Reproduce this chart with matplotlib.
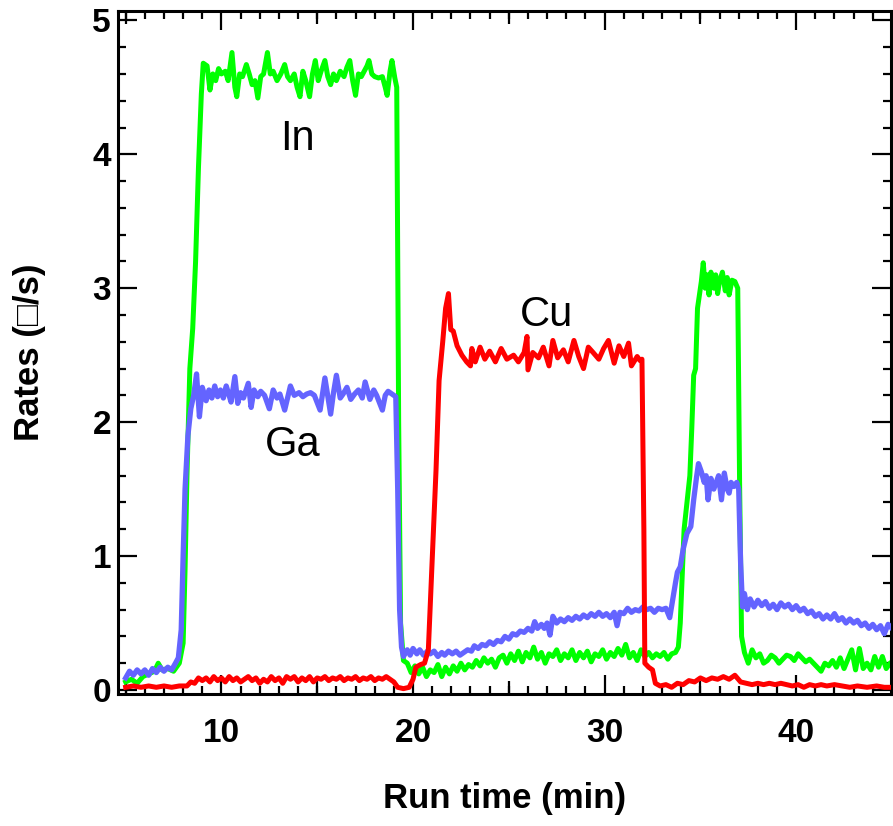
import numpy as np
import matplotlib
matplotlib.use("Agg")
import matplotlib.pyplot as plt
from matplotlib.ticker import MultipleLocator

plt.rcParams['font.family'] = ['Liberation Sans', 'DejaVu Sans']

# ---- In rate (green) ----
t_in = [5.0, 5.3, 5.6, 5.9, 6.2, 6.5, 6.7, 6.9, 7.2, 7.5, 7.8, 8.0, 8.1, 8.2, 8.35, 8.5, 8.65, 8.8, 8.95,
        9.05, 9.25, 9.4, 9.55, 9.7, 9.85, 10.0, 10.2, 10.35, 10.55, 10.7, 10.8, 10.95, 11.1, 11.3, 11.45,
        11.6, 11.75, 11.9, 12.05, 12.2, 12.4, 12.55, 12.7, 12.9, 13.1, 13.3, 13.45, 13.6, 13.8, 13.95,
        14.1, 14.25, 14.4, 14.6, 14.75, 14.9, 15.05, 15.2, 15.4, 15.55, 15.7, 15.85, 16.0, 16.2, 16.4,
        16.55, 16.7, 16.85, 17.0, 17.15, 17.3, 17.45, 17.6, 17.7, 17.85, 18.0, 18.2, 18.4, 18.55, 18.65,
        18.8, 18.9, 19.05, 19.15, 19.25, 19.35, 19.5, 19.7, 19.9, 20.1, 20.3, 20.5, 20.7, 20.9, 21.1,
        21.3, 21.5, 21.7, 21.9, 22.1, 22.3, 22.5, 22.7, 22.9, 23.1, 23.3, 23.5, 23.7, 23.9, 24.1, 24.3,
        24.5, 24.7, 24.9, 25.1, 25.3, 25.5, 25.7, 25.9, 26.1, 26.3, 26.5, 26.7, 26.9, 27.1, 27.3, 27.5,
        27.7, 27.9, 28.1, 28.3, 28.5, 28.7, 28.9, 29.1, 29.3, 29.5, 29.7, 29.9, 30.1, 30.3, 30.5, 30.7,
        30.9, 31.1, 31.3, 31.5, 31.7, 31.9, 32.1, 32.3, 32.5, 32.7, 32.9, 33.1, 33.3, 33.5, 33.7, 33.85,
        33.95, 34.05, 34.15, 34.3, 34.45, 34.55, 34.65, 34.75, 34.85, 34.95, 35.05, 35.15, 35.25, 35.35,
        35.45, 35.55, 35.7, 35.8, 35.9, 36.0, 36.15, 36.3, 36.4, 36.5, 36.65, 36.8, 36.95, 37.05, 37.15,
        37.3, 37.5, 37.7, 37.9, 38.1, 38.3, 38.5, 38.7, 38.9, 39.1, 39.3, 39.5, 39.7, 39.9, 40.1, 40.3,
        40.5, 40.7, 40.9, 41.1, 41.3, 41.5, 41.7, 41.9, 42.1, 42.3, 42.5, 42.7, 42.9, 43.1, 43.3, 43.5,
        43.7, 43.9, 44.1, 44.3, 44.5, 44.7, 44.9, 45.0]
r_in = [0.06, 0.08, 0.05, 0.10, 0.12, 0.14, 0.20, 0.15, 0.16, 0.14, 0.20, 0.35, 0.90, 1.60, 2.40, 2.70, 3.20, 3.90, 4.45,
        4.68, 4.66, 4.48, 4.60, 4.55, 4.64, 4.60, 4.62, 4.55, 4.76, 4.50, 4.43, 4.60, 4.58, 4.67, 4.60,
        4.52, 4.55, 4.42, 4.58, 4.60, 4.76, 4.60, 4.62, 4.55, 4.60, 4.67, 4.58, 4.55, 4.60, 4.50,
        4.43, 4.62, 4.55, 4.43, 4.60, 4.70, 4.55, 4.62, 4.70, 4.58, 4.52, 4.60, 4.55, 4.62, 4.58,
        4.65, 4.70, 4.55, 4.44, 4.60, 4.58, 4.62, 4.66, 4.70, 4.60, 4.58, 4.57, 4.58, 4.50, 4.44,
        4.62, 4.70, 4.57, 4.50, 2.00, 0.50, 0.22, 0.20, 0.13, 0.18, 0.12, 0.17, 0.10, 0.15, 0.13,
        0.19, 0.10, 0.17, 0.12, 0.18, 0.14, 0.20, 0.15, 0.19, 0.17, 0.22, 0.18, 0.24, 0.20, 0.23, 0.17,
        0.24, 0.26, 0.20, 0.27, 0.22, 0.29, 0.21, 0.28, 0.24, 0.32, 0.23, 0.28, 0.20, 0.27, 0.25, 0.30,
        0.22, 0.27, 0.24, 0.30, 0.22, 0.28, 0.24, 0.29, 0.21, 0.27, 0.25, 0.30, 0.23, 0.28, 0.25, 0.31,
        0.26, 0.34, 0.24, 0.28, 0.22, 0.30, 0.25, 0.28, 0.24, 0.27, 0.25, 0.28, 0.23, 0.27, 0.28, 0.32,
        0.50, 0.85, 1.20, 1.40, 1.60, 1.95, 2.35, 2.40, 2.85, 2.95, 3.05, 3.19, 3.00, 3.10,
        2.95, 3.12, 3.00, 3.10, 2.96, 3.05, 3.12, 2.98, 3.08, 2.95, 3.06, 3.05, 3.00, 1.50, 0.40,
        0.28, 0.20, 0.30, 0.24, 0.27, 0.20, 0.22, 0.26, 0.24, 0.20, 0.23, 0.26, 0.25, 0.22, 0.27, 0.24,
        0.21, 0.23, 0.20, 0.17, 0.14, 0.20, 0.18, 0.22, 0.17, 0.24, 0.16, 0.23, 0.30, 0.15, 0.31, 0.16,
        0.20, 0.15, 0.25, 0.17, 0.25, 0.16, 0.20, 0.21]

# ---- Ga rate (blue) ----
t_ga = [5.0, 5.2, 5.4, 5.6, 5.8, 6.0, 6.2, 6.4, 6.6, 6.8, 7.0, 7.2, 7.4, 7.6, 7.75, 7.9, 8.0, 8.1, 8.25,
        8.4, 8.55, 8.7, 8.85, 9.0, 9.2, 9.35, 9.5, 9.65, 9.8, 9.95, 10.1, 10.25, 10.4, 10.5, 10.7, 10.85,
        11.0, 11.15, 11.4, 11.55, 11.7, 11.9, 12.05, 12.25, 12.5, 12.7, 12.9, 13.05, 13.3, 13.6, 13.8,
        14.05, 14.25, 14.45, 14.65, 14.85, 15.15, 15.4, 15.7, 15.85, 16.0, 16.2, 16.35, 16.55, 16.75,
        16.95, 17.15, 17.35, 17.5, 17.75, 17.95, 18.1, 18.4, 18.55, 18.7, 18.9, 19.1, 19.2, 19.3, 19.4,
        19.5, 19.7, 19.85, 20.0, 20.2, 20.35, 20.55, 20.75, 20.9, 21.1, 21.3, 21.5, 21.65, 21.85, 22.05,
        22.25, 22.45, 22.65, 22.85, 23.05, 23.2, 23.4, 23.6, 23.8, 24.0, 24.2, 24.4, 24.6, 24.8, 25.0,
        25.2, 25.4, 25.6, 25.8, 26.0, 26.2, 26.35, 26.5, 26.7, 26.85, 27.0, 27.15, 27.3, 27.5, 27.7,
        27.9, 28.1, 28.3, 28.5, 28.7, 28.9, 29.1, 29.3, 29.5, 29.7, 29.9, 30.1, 30.3, 30.5, 30.65, 30.8,
        31.0, 31.2, 31.4, 31.6, 31.8, 32.0, 32.2, 32.4, 32.6, 32.8, 33.0, 33.2, 33.4, 33.55, 33.7, 33.8,
        33.95, 34.1, 34.3, 34.5, 34.65, 34.8, 34.9, 35.05, 35.2, 35.3, 35.4, 35.55, 35.7, 35.85, 35.95,
        36.1, 36.25, 36.4, 36.5, 36.6, 36.75, 36.9, 37.0, 37.1, 37.2, 37.3, 37.45, 37.6, 37.8, 38.0,
        38.2, 38.4, 38.6, 38.8, 39.0, 39.2, 39.4, 39.6, 39.8, 40.0, 40.2, 40.4, 40.6, 40.8, 41.0, 41.2,
        41.4, 41.6, 41.8, 42.0, 42.2, 42.4, 42.6, 42.8, 43.0, 43.2, 43.4, 43.6, 43.8, 44.0, 44.2, 44.4,
        44.6, 44.8, 45.0]
r_ga = [0.09, 0.14, 0.11, 0.15, 0.12, 0.15, 0.11, 0.16, 0.13, 0.17, 0.14, 0.17, 0.15, 0.20, 0.24, 0.45, 1.00, 1.50, 1.90,
        2.10, 2.20, 2.36, 2.04, 2.26, 2.16, 2.24, 2.18, 2.27, 2.19, 2.24, 2.18, 2.27, 2.20, 2.15, 2.34, 2.14,
        2.22, 2.18, 2.29, 2.11, 2.24, 2.19, 2.23, 2.20, 2.10, 2.24, 2.18, 2.21, 2.09, 2.27, 2.20,
        2.22, 2.19, 2.21, 2.22, 2.20, 2.09, 2.33, 2.06, 2.22, 2.35, 2.18, 2.21, 2.26, 2.17,
        2.21, 2.24, 2.18, 2.30, 2.17, 2.24, 2.20, 2.09, 2.20, 2.23, 2.21, 2.19, 1.50, 0.60, 0.32,
        0.25, 0.30, 0.26, 0.31, 0.27, 0.30, 0.26, 0.29, 0.27, 0.29, 0.25, 0.28, 0.26, 0.29, 0.27,
        0.29, 0.26, 0.28, 0.30, 0.29, 0.33, 0.31, 0.34, 0.33, 0.36, 0.34, 0.37, 0.36, 0.40, 0.38,
        0.42, 0.41, 0.44, 0.43, 0.46, 0.44, 0.51, 0.46, 0.49, 0.46, 0.50, 0.41, 0.55, 0.50, 0.53,
        0.51, 0.54, 0.52, 0.55, 0.53, 0.56, 0.54, 0.57, 0.55, 0.58, 0.55, 0.57, 0.54, 0.58, 0.48, 0.58,
        0.57, 0.61, 0.58, 0.60, 0.59, 0.62, 0.60, 0.61, 0.58, 0.61, 0.60, 0.61, 0.54, 0.67, 0.80, 0.88,
        0.92, 1.05, 1.17, 1.22, 1.42, 1.59, 1.69, 1.63, 1.55, 1.60, 1.42, 1.58, 1.50, 1.56, 1.60,
        1.42, 1.62, 1.50, 1.47, 1.55, 1.52, 1.55, 1.50, 0.95, 0.62, 0.72, 0.60, 0.68, 0.62, 0.67,
        0.63, 0.66, 0.61, 0.64, 0.60, 0.65, 0.62, 0.64, 0.60, 0.63, 0.59, 0.61, 0.57, 0.59, 0.55, 0.57,
        0.53, 0.56, 0.53, 0.57, 0.52, 0.54, 0.50, 0.53, 0.50, 0.52, 0.48, 0.50, 0.46, 0.49, 0.45, 0.48,
        0.42, 0.49, 0.46]

# ---- Cu rate (red) ----
t_cu = [5.0, 5.4, 5.8, 6.2, 6.6, 7.0, 7.4, 7.8, 8.2, 8.4, 8.6, 8.8, 9.0, 9.2, 9.4, 9.6, 9.8, 10.0, 10.2,
        10.4, 10.6, 10.8, 11.0, 11.2, 11.4, 11.6, 11.8, 12.0, 12.2, 12.4, 12.6, 12.8, 13.0, 13.2, 13.4,
        13.6, 13.8, 14.0, 14.2, 14.4, 14.6, 14.8, 15.0, 15.2, 15.4, 15.6, 15.8, 16.0, 16.2, 16.4, 16.6,
        16.8, 17.0, 17.2, 17.4, 17.6, 17.8, 18.0, 18.2, 18.4, 18.6, 18.8, 19.0, 19.2, 19.5, 19.8, 20.0,
        20.15, 20.4, 20.6, 20.8, 21.0, 21.2, 21.36, 21.55, 21.7, 21.85, 21.97, 22.1, 22.3, 22.55, 22.8,
        23.0, 23.07, 23.25, 23.5, 23.75, 24.0, 24.3, 24.6, 24.9, 25.25, 25.5, 25.8, 25.95, 26.0, 26.25,
        26.55, 26.8, 27.1, 27.3, 27.55, 27.85, 28.1, 28.4, 28.65, 28.9, 29.15, 29.4, 29.7, 29.95, 30.2,
        30.5, 30.75, 31.0, 31.25, 31.4, 31.7, 31.85, 31.95, 32.05, 32.1, 32.3, 32.5, 32.65, 32.9, 33.2,
        33.5, 33.8, 34.1, 34.4, 34.7, 35.0, 35.3, 35.6, 35.9, 36.2, 36.5, 36.8, 37.1, 37.4, 37.7, 38.0,
        38.3, 38.6, 38.9, 39.2, 39.5, 39.8, 40.1, 40.4, 40.7, 41.0, 41.3, 41.6, 42.0, 42.4, 42.8, 43.2,
        43.7, 44.2, 44.6, 45.0]
r_cu = [0.02, 0.03, 0.02, 0.03, 0.02, 0.03, 0.02, 0.03, 0.03, 0.06, 0.05, 0.09, 0.07, 0.09, 0.06, 0.10, 0.07, 0.09, 0.06,
        0.10, 0.07, 0.09, 0.06, 0.08, 0.10, 0.07, 0.09, 0.05, 0.08, 0.06, 0.10, 0.07, 0.09, 0.05, 0.10,
        0.08, 0.10, 0.06, 0.09, 0.07, 0.10, 0.06, 0.09, 0.08, 0.10, 0.07, 0.09, 0.08, 0.10, 0.07, 0.09,
        0.08, 0.10, 0.07, 0.09, 0.08, 0.10, 0.07, 0.09, 0.08, 0.10, 0.08, 0.06, 0.02, 0.01, 0.02, 0.08,
        0.17, 0.19, 0.20, 0.30, 0.97, 1.64, 2.31, 2.60, 2.85, 2.96, 2.69, 2.68, 2.57, 2.50, 2.45,
        2.42, 2.55, 2.45, 2.56, 2.47, 2.53, 2.45, 2.55, 2.47, 2.50, 2.45, 2.52, 2.64, 2.39, 2.52,
        2.48, 2.56, 2.42, 2.61, 2.48, 2.54, 2.45, 2.61, 2.49, 2.40, 2.56, 2.52, 2.47, 2.55, 2.61,
        2.44, 2.57, 2.49, 2.59, 2.42, 2.49, 2.46, 2.47, 1.20, 0.20, 0.17, 0.15, 0.05, 0.03, 0.04,
        0.02, 0.05, 0.04, 0.07, 0.06, 0.09, 0.07, 0.09, 0.08, 0.10, 0.08, 0.11, 0.06, 0.05, 0.04, 0.05,
        0.04, 0.05, 0.04, 0.05, 0.04, 0.03, 0.04, 0.02, 0.04, 0.03, 0.04, 0.03, 0.04, 0.03, 0.02, 0.03,
        0.02, 0.03, 0.02, 0.02]

GREEN = '#00ff00'
BLUE = '#6464ff'
RED = '#ff0000'

fig = plt.figure(figsize=(8.93, 8.26), dpi=100)
ax = fig.add_axes([118 / 893, 1 - 694 / 826, (891 - 118) / 893, (694 - 11) / 826])

ax.plot(t_in, r_in, color=GREEN, lw=3.6, zorder=2, solid_joinstyle='round')
ax.plot(t_ga, r_ga, color=BLUE, lw=3.8, zorder=3, solid_joinstyle='round')
ax.plot(t_cu, r_cu, color=RED, lw=3.6, zorder=4, solid_joinstyle='round')

ax.text(13.95, 4.03, 'In', fontsize=30, ha='center', va='baseline')
ax.text(13.7, 1.75, 'Ga', fontsize=30, ha='center', va='baseline')
ax.text(26.95, 2.72, 'Cu', fontsize=30, ha='center', va='baseline')

ax.set_xlim(4.6, 44.95)
ax.set_ylim(-0.03, 5.07)

ax.xaxis.set_major_locator(MultipleLocator(10))
ax.xaxis.set_minor_locator(MultipleLocator(1))
ax.yaxis.set_major_locator(MultipleLocator(1))
ax.yaxis.set_minor_locator(MultipleLocator(0.2))

for s in ax.spines.values():
    s.set_linewidth(2.2)

ax.tick_params(which='both', direction='in', top=True, right=True, width=1.6)
ax.tick_params(which='major', length=13.5)
ax.tick_params(which='minor', length=5.8)
ax.tick_params(axis='x', which='major', pad=17, labelsize=24)
ax.tick_params(axis='y', which='major', pad=5, labelsize=24)
for lab in ax.get_xticklabels() + ax.get_yticklabels():
    lab.set_fontweight('bold')

# intermediate ticks every 5 min on bottom and top edges
for side in ('bottom', 'top'):
    sec = ax.secondary_xaxis(side)
    sec.set_xticks([5, 15, 25, 35, 45])
    sec.tick_params(direction='in', length=9.5, width=1.6, labelbottom=False, labeltop=False)
    for s in sec.spines.values():
        s.set_visible(False)

ax.set_xlabel('Run time (min)', fontsize=25, fontweight='bold')
ax.set_ylabel('Rates (\u25a1/s)', fontsize=25, fontweight='bold')
ax.xaxis.set_label_coords(0.5, -0.129)
ax.yaxis.set_label_coords(-0.093, 0.5)

fig.savefig('out.png', dpi=100)
